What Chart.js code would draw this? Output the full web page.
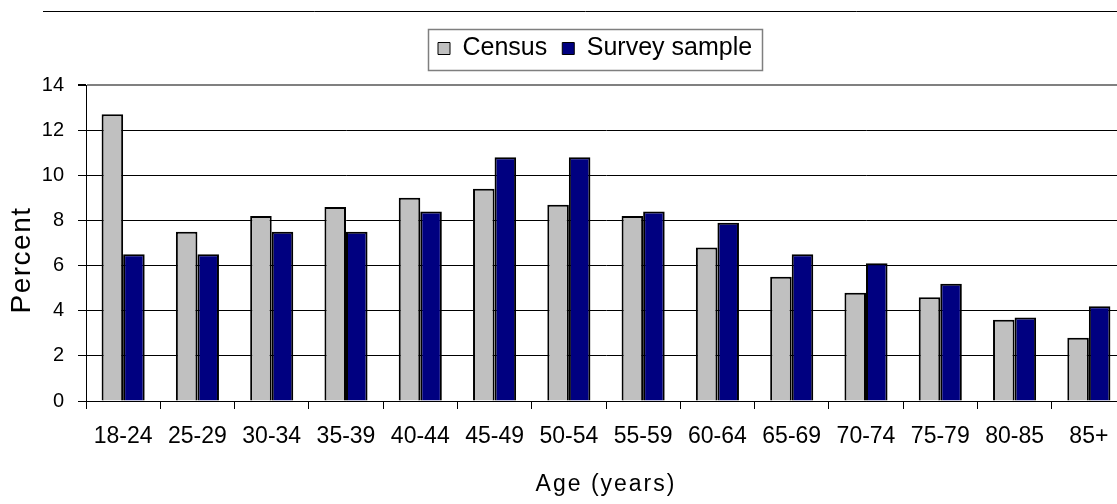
<!DOCTYPE html>
<html>
<head>
<meta charset="utf-8">
<script src="https://cdn.jsdelivr.net/npm/chart.js@4/dist/chart.umd.min.js"></script>
<style>
  html, body { margin: 0; padding: 0; background: #fff; overflow: hidden; }
  #wrap { position: relative; width: 1128px; height: 504px; }
</style>
</head>
<body>
<div id="wrap"><canvas id="c"></canvas></div>
<script>
// Age groups and the share of each group (percent)
const ageGroups = ['18-24', '25-29', '30-34', '35-39', '40-44', '45-49', '50-54',
                   '55-59', '60-64', '65-69', '70-74', '75-79', '80-85', '85+'];
const censusPct = [12.7, 7.5, 8.2, 8.6, 9.0, 9.4, 8.7, 8.2, 6.8, 5.5, 4.8, 4.6, 3.6, 2.8];
const surveyPct = [6.5, 6.5, 7.5, 7.5, 8.4, 10.8, 10.8, 8.4, 7.9, 6.5, 6.1, 5.2, 3.7, 4.2];
const yTicks = [0, 2, 4, 6, 8, 10, 12, 14];

const seriesNames = ['Census', 'Survey sample'];
const xTitle = 'Age (years)';
const yTitle = 'Percent';

const FONT = "'Liberation Sans', Arial, Helvetica, sans-serif";

// Legend placement: left edge of the first swatch and top of the legend row
const LEGEND_X = 438;
const LEGEND_Y = 36;

// Moves the legend row to its spot above the plot (after hit boxes are set)
const legendPlacement = {
  id: 'legendPlacement',
  afterUpdate(chart) {
    const lg = chart.legend;
    const hb = lg && lg.legendHitBoxes;
    if (!hb || !hb.length) return;
    const dx = LEGEND_X - hb[0].left;
    const dy = LEGEND_Y - hb[0].top;
    lg.left += dx; lg.right += dx;
    lg.top += dy; lg.bottom += dy;
    hb.forEach(h => { h.left += dx; h.top += dy; });
  }
};

// Frame line, legend border and axis titles
const decorations = {
  id: 'decorations',
  afterDraw(chart) {
    const ctx = chart.ctx;
    const area = chart.chartArea;
    ctx.save();
    // thin rule across the top
    ctx.strokeStyle = '#000';
    ctx.lineWidth = 1;
    ctx.beginPath();
    ctx.moveTo(43, 11.5);
    ctx.lineTo(chart.width, 11.5);
    ctx.stroke();

    // border round the legend
    const hb = chart.legend.legendHitBoxes;
    if (hb && hb.length) {
      const l = Math.min(...hb.map(h => h.left)) - 10;
      const r = Math.max(...hb.map(h => h.left + h.width)) + 10;
      const t = Math.min(...hb.map(h => h.top)) - 7;
      const b = Math.max(...hb.map(h => h.top + h.height)) + 9;
      ctx.strokeStyle = '#7f7f7f';
      ctx.lineWidth = 1.5;
      ctx.strokeRect(Math.round(l) + 0.5, Math.round(t) + 0.5, Math.round(r - l), Math.round(b - t));
    }

    // axis titles
    ctx.fillStyle = '#000';
    ctx.textAlign = 'center';
    ctx.textBaseline = 'middle';
    ctx.font = '23px ' + FONT;
    ctx.letterSpacing = '2px';
    ctx.fillText(xTitle, (area.left + area.right) / 2, 485);

    ctx.translate(22, 260);
    ctx.rotate(-Math.PI / 2);
    ctx.font = '28px ' + FONT;
    ctx.letterSpacing = '1.5px';
    ctx.fillText(yTitle, 0, 0);
    ctx.restore();
  }
};

new Chart(document.getElementById('c'), {
  type: 'bar',
  data: {
    labels: ageGroups,
    datasets: [
      {
        label: seriesNames[0],
        data: censusPct,
        backgroundColor: '#c0c0c0',
        borderColor: '#000',
        borderWidth: 2,
        categoryPercentage: 0.58,
        barPercentage: 1.0
      },
      {
        label: seriesNames[1],
        data: surveyPct,
        backgroundColor: '#000080',
        borderColor: '#000',
        borderWidth: 2,
        categoryPercentage: 0.58,
        barPercentage: 1.0
      }
    ]
  },
  options: {
    responsive: true,
    maintainAspectRatio: false,
    animation: false,
    layout: { padding: { top: 35, right: 2, left: 0, bottom: 0 } },
    plugins: {
      legend: {
        position: 'top',
        labels: {
          color: '#000',
          font: { family: FONT, size: 25 },
          boxWidth: 12,
          boxHeight: 12,
          padding: 15,
          generateLabels(chart) {
            return chart.data.datasets.map((ds, i) => ({
              text: ds.label,
              fillStyle: ds.backgroundColor,
              strokeStyle: '#000',
              lineWidth: 1,
              datasetIndex: i,
              fontColor: '#000'
            }));
          }
        }
      },
      tooltip: { enabled: false }
    },
    scales: {
      x: {
        offset: true,
        grid: {
          offset: true,
          drawOnChartArea: false,
          drawTicks: true,
          tickLength: 8,
          color: '#000'
        },
        border: { color: '#000', width: 1 },
        ticks: {
          color: '#000',
          font: { family: FONT, size: 23 },
          padding: 14,
          maxRotation: 0,
          autoSkip: false
        },
        afterFit(scale) { scale.height = 103; }
      },
      y: {
        min: 0,
        max: 14,
        afterBuildTicks(scale) { scale.ticks = yTicks.map(v => ({ value: v })); },
        grid: {
          color: ctx => (ctx.tick && ctx.tick.value === 14 ? '#808080' : '#000'),
          lineWidth: ctx => (ctx.tick && ctx.tick.value === 14 ? 2 : 1),
          tickLength: 8,
          tickColor: '#000'
        },
        border: { color: '#000', width: 1 },
        ticks: {
          color: '#000',
          font: { family: FONT, size: 20 },
          padding: 14
        },
        afterFit(scale) { scale.width = 86; }
      }
    }
  },
  plugins: [legendPlacement, decorations]
});
</script>
</body>
</html>
